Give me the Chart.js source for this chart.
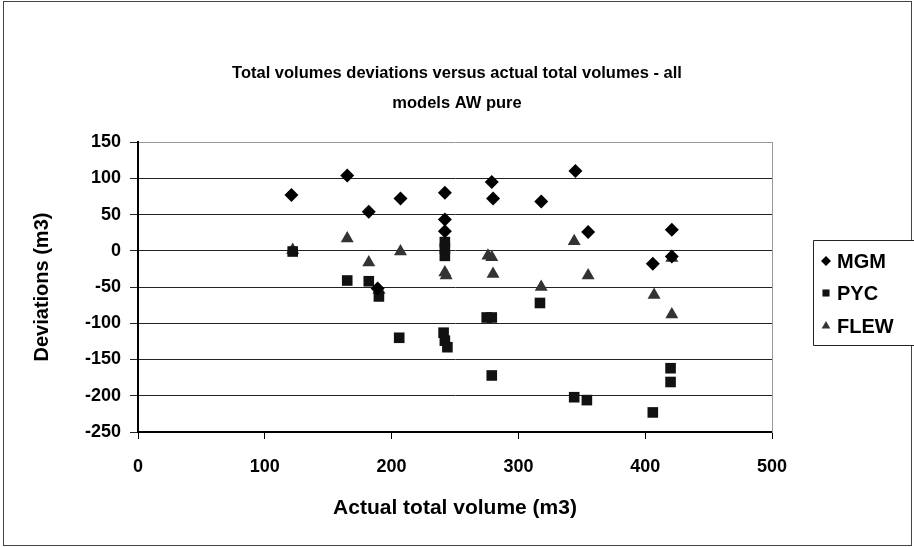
<!DOCTYPE html>
<html>
<head>
<meta charset="utf-8">
<script src="https://cdn.jsdelivr.net/npm/chart.js@4"></script>
<style>
  html, body { margin: 0; padding: 0; background: #fff; }
  #wrap { width: 914px; height: 547px; }
</style>
</head>
<body>
<div id="wrap"><canvas id="chart" width="914" height="547"></canvas></div>
<script>
const mgmX  = [121, 165, 182, 189, 207, 242, 242, 242, 279, 280, 318, 345, 355, 406, 421, 421];
const mgmY  = [77, 104, 54, -52, 72, 80, 43, 27, 95, 72, 68, 110, 26, -18, 29, -8];
const pycX  = [122, 165, 182, 190, 206, 242, 242, 242, 241, 242, 244, 275, 279, 279, 317, 344, 354, 406, 420, 420];
const pycY  = [-1, -41, -42, -63, -120, 12, 3, -7, -113, -124, -133, -92, -92, -172, -72, -202, -206, -223, -162, -181];
const flewX = [122, 165, 182, 190, 207, 242, 243, 276, 279, 280, 318, 344, 355, 407, 421, 421];
const flewY = [1, 17, -16, -54, -1, -30, -34, -7, -9, -32, -50, 13, -34, -61, -10, -88];

const xTicks = [0, 100, 200, 300, 400, 500];
const yTicks = [-250, -200, -150, -100, -50, 0, 50, 100, 150];

const FONT = "'Liberation Sans', Arial, sans-serif";

function pts(xs, ys) {
  return xs.map((x, i) => ({ x: x, y: ys[i] }));
}

const frame = {
  id: 'frame',
  beforeDraw(chart) {
    const ctx = chart.ctx;
    ctx.save();
    ctx.fillStyle = '#fff';
    ctx.fillRect(0, 0, chart.width, chart.height);
    ctx.strokeStyle = '#444';
    ctx.lineWidth = 1;
    ctx.strokeRect(3.5, 1.5, 908, 544);
    ctx.restore();
  }
};

// legend drawn by hand so it can sit where the original one is
const sideLegend = {
  id: 'sideLegend',
  afterDraw(chart) {
    const ctx = chart.ctx;
    ctx.save();
    ctx.fillStyle = '#fff';
    ctx.fillRect(813, 240, 101, 106);
    ctx.strokeStyle = '#222';
    ctx.lineWidth = 1;
    ctx.beginPath();
    ctx.moveTo(914, 240.5);
    ctx.lineTo(813.5, 240.5);
    ctx.lineTo(813.5, 345.5);
    ctx.lineTo(914, 345.5);
    ctx.stroke();
    const rows = [261, 293, 326];
    chart.data.datasets.forEach((ds, i) => {
      ctx.fillStyle = ds.backgroundColor;
      ctx.strokeStyle = ds.backgroundColor;
      Chart.helpers.drawPoint(ctx, { pointStyle: ds.pointStyle, radius: 5, borderWidth: 0 }, 826, rows[i]);
      ctx.fillStyle = '#000';
      ctx.font = 'bold 20px ' + FONT;
      ctx.textBaseline = 'middle';
      ctx.textAlign = 'left';
      ctx.fillText(ds.label, 837, rows[i] + 1);
    });
    ctx.restore();
  }
};

new Chart(document.getElementById('chart'), {
  type: 'scatter',
  data: {
    datasets: [
      { label: 'MGM', data: pts(mgmX, mgmY), pointStyle: 'rectRot', pointRadius: 7,
        backgroundColor: '#000', borderColor: '#000', borderWidth: 0 },
      { label: 'PYC', data: pts(pycX, pycY), pointStyle: 'rect', pointRadius: 7.5,
        backgroundColor: '#111', borderColor: '#111', borderWidth: 0 },
      { label: 'FLEW', data: pts(flewX, flewY), pointStyle: 'triangle', pointRadius: 7.5,
        backgroundColor: '#333', borderColor: '#333', borderWidth: 0 }
    ]
  },
  options: {
    responsive: false,
    animation: false,
    events: [],
    layout: { padding: 0 },
    plugins: {
      legend: { display: false },
      tooltip: { enabled: false },
      title: {
        display: true,
        text: ['Total volumes deviations versus actual total volumes - all', 'models AW pure'],
        color: '#000',
        font: { family: FONT, size: 16.5, weight: 'bold', lineHeight: 1.82 },
        padding: { top: 58, bottom: 24 }
      }
    },
    scales: {
      x: {
        type: 'linear',
        min: 0,
        max: 500,
        afterBuildTicks: s => { s.ticks = xTicks.map(v => ({ value: v })); },
        afterFit: s => { s.height = 115; },
        grid: { drawOnChartArea: false, color: '#000', tickLength: 7 },
        border: { display: true, color: '#000', width: 2 },
        ticks: { color: '#000', padding: 17, maxRotation: 0, font: { family: FONT, size: 18, weight: 'bold' } },
        title: {
          display: true,
          text: 'Actual total volume (m3)',
          color: '#000',
          font: { family: FONT, size: 21, weight: 'bold' },
          padding: { top: 0, bottom: 26 }
        }
      },
      y: {
        type: 'linear',
        min: -250,
        max: 150,
        afterBuildTicks: s => { s.ticks = yTicks.map(v => ({ value: v })); },
        afterFit: s => { s.width = 138; },
        grid: {
          color: c => (c.tick && c.tick.value === 150 ? '#999' : '#222'),
          tickColor: '#222',
          tickLength: 8
        },
        border: { display: true, color: '#000', width: 2 },
        ticks: { color: '#000', padding: 9, font: { family: FONT, size: 18, weight: 'bold' } },
        title: {
          display: true,
          text: 'Deviations (m3)',
          color: '#000',
          font: { family: FONT, size: 20, weight: 'bold' },
          padding: { top: 30, bottom: 0 }
        }
      },
      side: {
        type: 'linear',
        position: 'right',
        display: true,
        afterFit: s => { s.width = 142; },
        grid: { drawOnChartArea: false, drawTicks: false, color: 'rgba(0,0,0,0)' },
        border: { display: true, color: '#999', width: 1 },
        ticks: { display: false }
      }
    }
  },
  plugins: [frame, sideLegend]
});
</script>
</body>
</html>
